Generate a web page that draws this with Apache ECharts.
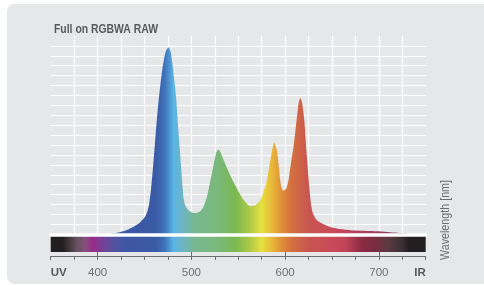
<!DOCTYPE html>
<html>
<head>
<meta charset="utf-8">
<script src="https://cdn.jsdelivr.net/npm/echarts@6/dist/echarts.min.js"></script>
<style>
html,body{margin:0;padding:0;background:#ffffff;overflow:hidden;}
#panel{position:absolute;left:7px;top:4px;width:500px;height:280px;border-radius:8px;background:#e6e7e8;}
#chart{position:absolute;left:0;top:0;width:484px;height:285px;}
</style>
</head>
<body>
<div id="panel"></div>
<div id="chart"></div>
<script>
// Spectrum (relative intensity, % of peak) by wavelength (nm)
const wavelengths = [350, 410, 422, 430, 438, 445, 450.7, 453, 455, 457, 459, 461, 463, 465, 467, 469, 471, 473, 475.6, 478, 479.8, 481.5, 483.8, 486.2, 488.8, 491.6, 493.4, 496.9, 500.9, 505.1, 509.4, 512.9, 516.6, 521.9, 526.5, 528.9, 531, 533, 538, 543, 548.6, 555.7, 562.8, 568.1, 573.5, 577.7, 580.6, 584.9, 588.4, 591.2, 593, 594.8, 596.6, 598.3, 601.2, 603.7, 606.2, 609, 611.9, 614.4, 616.2, 618, 620.5, 623.3, 625.8, 627.6, 629.7, 634, 641.1, 648, 659, 670, 698, 720, 735, 750];
const intensity   = [0,   0,   0.9, 2,   3.9, 6.2, 9.3,   12,  16,  24,  35,  47,  60,  71,  80,  88,  94,  98,  100,   97.5, 91.4,  84,    73,    55.6,  38,    19.8,  15.5,  12.8,  11.5,  11.4,  12.3,  14.6,  19.9,  32.5,  43.5,  45.5,  44,  41.5, 35.5, 30,  24.5,  18.5,  15,    15.5,  18.2,  23.5,  28.9,  41.3,  49,    45,    37.8, 28.9,  24.4,  23.2,  24.4,  28.9,  37.8,  46.7, 59.2,  69.9,  72.9,  70.7, 61,    41.3,  25.3,  16.4,  11.1,  7.5, 5.3,   3.9, 2.8, 2.2, 1.6, 0.8, 0,  0];

// Axis tick labels
const tickValues = [350, 400, 500, 600, 700, 750];
const tickNames  = ['UV', '400', '500', '600', '700', 'IR'];
const majorTicks = [400, 500, 600, 700];

// Spectrum colour stops (wavelength -> colour)
const barStopNm  = [350, 363, 369, 378, 387, 395, 404, 415, 429, 462, 472, 481, 490, 504, 529, 547, 561, 575, 586, 597, 607, 625, 654, 664, 682, 696, 710, 725, 732, 750];
const barStopCol = ['#231f20','#231f20','#3d3537','#6a5262','#84507a','#9b2a8c','#7a3f95','#5a4fa0','#3f56a5','#3a5aa5','#3f74bc','#5ab4e4','#6cb4c8','#78b890','#7ab87a','#7ab850','#a8c848','#e6e040','#e8b838','#df8c38','#d4703f','#c85550','#c9485a','#c04458','#8a2c44','#7a2c40','#5a3a40','#3a3033','#231f20','#231f20'];
const areaStopNm  = [350, 440, 462, 472, 481, 490, 504, 529, 547, 561, 575, 586, 597, 607, 625, 654, 680, 710, 735, 750];
const areaStopCol = ['#3a58a5','#3a58a5','#3a5aa5','#3f74bc','#5ab4e4','#6cb4c8','#78b890','#7ab87a','#7ab850','#a8c848','#e6e040','#e8b838','#df8c38','#d4703f','#c85550','#c9485a','#b04060','#904058','#807080','#807080'];

const TITLE = 'Full on RGBWA RAW';
const AXIS_NAME = 'Wavelength [nm]';

const X_MIN = 350, X_MAX = 750;
function grad(nms, cols) {
  return new echarts.graphic.LinearGradient(0, 0, 1, 0,
    nms.map((n, i) => ({ offset: (n - X_MIN) / (X_MAX - X_MIN), color: cols[i] })));
}
const FONT = "'Liberation Sans', Arial, sans-serif";
const ctx = document.createElement('canvas').getContext('2d');
function fitScale(text, font, target) {
  ctx.font = font;
  return target / ctx.measureText(text).width;
}
const titleFont = 'bold 13px ' + FONT;
const nameFont = '12.5px ' + FONT;

const chart = echarts.init(document.getElementById('chart'), null, { renderer: 'canvas' });

const option = {
  backgroundColor: 'transparent',
  animation: false,
  grid: [
    { left: 50.7, right: 58.3, top: 36, bottom: 50.75 },
    { left: 50.7, right: 58.3, top: 236, height: 16 }
  ],
  xAxis: [
    {
      type: 'value', gridIndex: 0, min: X_MIN, max: X_MAX, interval: 25, z: 3,
      axisLine: { show: true, onZero: false, lineStyle: { color: '#ffffff', width: 3.5 } },
      axisTick: { show: false }, axisLabel: { show: false },
      splitLine: { show: true, showMinLine: false, showMaxLine: false, lineStyle: { color: '#ffffff', width: 1.2 } }
    },
    {
      type: 'value', gridIndex: 1, min: X_MIN, max: X_MAX, interval: 25, position: 'bottom', offset: 4,
      axisLine: { show: true, onZero: false, lineStyle: { color: '#6d6e71', width: 1 } },
      axisTick: { show: true, length: 4, lineStyle: { color: '#6d6e71', width: 1 } },
      splitLine: { show: false },
      axisLabel: {
        show: true, margin: 11, customValues: tickValues,
        alignMinLabel: 'left', alignMaxLabel: 'right',
        formatter: v => {
          const i = tickValues.indexOf(v);
          const t = i >= 0 ? tickNames[i] : '';
          return (v === X_MIN || v === X_MAX) ? '{b|' + t + '}' : '{n|' + t + '}';
        },
        rich: {
          b: { fontFamily: FONT, fontSize: 11.5, fontWeight: 'bold', color: '#58595b' },
          n: { fontFamily: FONT, fontSize: 11.5, color: '#6d6e71' }
        }
      }
    },
    {
      type: 'value', gridIndex: 1, min: X_MIN, max: X_MAX, interval: 25, position: 'bottom', offset: 4,
      axisLine: { show: false },
      axisTick: { show: true, length: 8, customValues: majorTicks, lineStyle: { color: '#6d6e71', width: 1 } },
      axisLabel: { show: false }, splitLine: { show: false }
    }
  ],
  yAxis: [
    {
      type: 'value', gridIndex: 0, min: 0, max: 106, interval: 5.3,
      axisLine: { show: false }, axisTick: { show: false }, axisLabel: { show: false },
      splitLine: { show: true, showMinLine: false, showMaxLine: false, lineStyle: { color: '#ffffff', width: 1 } }
    },
    {
      type: 'value', gridIndex: 1, min: 0, max: 1,
      axisLine: { show: false }, axisTick: { show: false }, axisLabel: { show: false }, splitLine: { show: false }
    }
  ],
  series: [
    {
      type: 'line', xAxisIndex: 0, yAxisIndex: 0,
      data: wavelengths.map((w, i) => [w, intensity[i]]),
      smooth: 0.2, symbol: 'none',
      lineStyle: { width: 0 },
      areaStyle: { color: grad(areaStopNm, areaStopCol), opacity: 1 }
    },
    {
      type: 'line', xAxisIndex: 1, yAxisIndex: 1,
      data: [[X_MIN, 1], [X_MAX, 1]],
      symbol: 'none', lineStyle: { width: 0 },
      areaStyle: { color: grad(barStopNm, barStopCol), opacity: 1 }
    }
  ],
  graphic: [
    {
      type: 'text', x: 54, y: 29, scaleX: fitScale(TITLE, titleFont, 104),
      style: { text: TITLE, font: titleFont, fill: '#58595b', align: 'left', verticalAlign: 'middle' }
    },
    {
      type: 'text', x: 446, y: 220, rotation: Math.PI / 2, scaleX: fitScale(AXIS_NAME, nameFont, 80),
      style: { text: AXIS_NAME, font: nameFont, fill: '#6d6e71', align: 'center', verticalAlign: 'middle' }
    }
  ]
};
chart.setOption(option);
</script>
</body>
</html>
